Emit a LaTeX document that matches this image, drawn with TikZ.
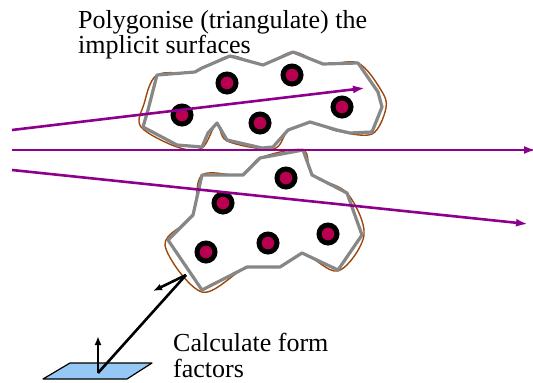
\documentclass[tikz,border=0pt]{standalone}
\usepackage{fontspec}
\setmainfont{Liberation Serif}
\usetikzlibrary{arrows.meta}
\definecolor{blobbrown}{RGB}{160,70,10}
\definecolor{blobgray}{RGB}{135,135,135}
\definecolor{raypurple}{RGB}{140,0,140}
\definecolor{dotred}{RGB}{185,0,80}
\definecolor{planeblue}{RGB}{150,200,245}
\tikzset{
  blob/.style={draw=blobgray, line width=3.2pt, fill=white, line join=round},
  halo/.style={draw=blobbrown, line width=1.4pt},
  dot/.style={circle, draw=black, line width=5pt, fill=dotred, minimum size=18pt, inner sep=0pt},
  ray/.style={draw=raypurple, line width=2.6pt, -{Latex[length=12pt,width=8pt]}},
  normal/.style={draw=black, line width=2.6pt, -{Latex[length=9pt,width=7pt]}},
  txtlabel/.style={font=\fontsize{26}{25.5}\selectfont, align=left, inner sep=0pt, anchor=north west}
}
\begin{document}
\begin{tikzpicture}[x=1pt,y=-1pt]
\useasboundingbox (0,0) rectangle (533,383);
% top blob
\draw[halo] plot[smooth cycle, tension=0.55] coordinates {(157,75) (195,72) (230,56) (263,65) (293,52) (323,64) (358,63) (381,90) (386,108) (372,134) (337,131) (310,122) (288,131) (273,149) (227,141) (217,123) (202,148) (177,147) (141,127) (144,104)};
\draw[blob] (157,75) -- (195,72) -- (202,68) -- (230,56) -- (263,65) -- (293,52) -- (323,64) -- (358,63) -- (378,92) -- (382,107) -- (372,132) -- (350,133) -- (337,130) -- (310,122) -- (288,130) -- (273,147) -- (262,148) -- (227,140) -- (217,123) -- (208,133) -- (202,147) -- (177,145) -- (143,127) -- (148,110) -- cycle;
% bottom blob
\draw[halo] plot[smooth cycle, tension=0.55] coordinates {(260,158) (303,150) (312,175) (347,193) (364,235) (338,271) (302,253) (280,267) (247,267) (202,292) (165,245) (193,215) (202,175) (243,175)};
\draw[blob] (260,158) -- (303,150) -- (312,175) -- (347,193) -- (362,235) -- (338,270) -- (302,253) -- (280,267) -- (247,267) -- (202,290) -- (168,240) -- (193,215) -- (202,175) -- (243,175) -- (248,170) -- cycle;
% dots
\node[dot] (t1) at (227,83) {};
\node[dot] (t2) at (292,75) {};
\node[dot] (t3) at (182,115) {};
\node[dot] (t4) at (260,123) {};
\node[dot] (t5) at (342,107) {};
\node[dot] (b1) at (286,178) {};
\node[dot] (b2) at (223,203) {};
\node[dot] (b3) at (206,252) {};
\node[dot] (b4) at (268,243) {};
\node[dot] (b5) at (328,234) {};
% rays
\coordinate (r1s) at (12,130); \coordinate (r1e) at (365,88);
\coordinate (r2s) at (12,150); \coordinate (r2e) at (536,150);
\coordinate (r3s) at (12,170); \coordinate (r3e) at (528,224);
\draw[ray] (r1s) -- (r1e);
\draw[ray] (r2s) -- (r2e);
\draw[ray] (r3s) -- (r3e);
% patch
\draw[fill=planeblue, line width=1.2pt, draw=black, line join=round] (43,379) -- (70,363) -- (152,363) -- (127,379) -- cycle;
\coordinate (pc) at (98,373);
\coordinate (sp) at (186,275);
\coordinate (pn) at (98,336);
\coordinate (sn) at (153,291);
\draw[line width=2.6pt] (pc) -- (sp);
\draw[normal] (pc) -- (pn);
\draw[normal] (sp) -- (sn);
% labels
\node[txtlabel] (lab1) at (78,10) {Polygonise (triangulate) the\\implicit surfaces};
\node[txtlabel] (lab2) at (173,333) {Calculate form\\factors};
\end{tikzpicture}
\end{document}
